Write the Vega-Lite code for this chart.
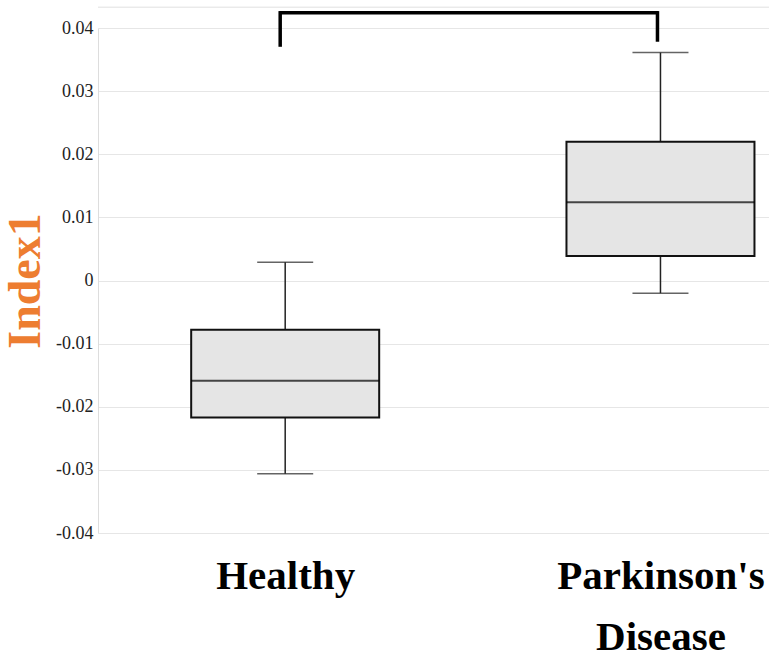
{
  "$schema": "https://vega.github.io/schema/vega-lite/v6.json",
  "width": 671,
  "height": 505,
  "autosize": {"type": "none"},
  "padding": {"left": 98, "top": 28, "right": 0, "bottom": 123},
  "background": "white",
  "config": {"view": {"stroke": null}, "font": "Liberation Serif"},
  "datasets": {
    "boxes": [
      {"group": "Healthy", "lower": -0.0306, "q1": -0.0217, "median": -0.0159, "q3": -0.0078, "upper": 0.0029},
      {"group": "Parkinson's Disease", "lower": -0.002, "q1": 0.0039, "median": 0.0124, "q3": 0.022, "upper": 0.0361}
    ],
    "bracket": [
      {"from": "Healthy", "to": "Parkinson's Disease", "top": 0.0424, "leftEnd": 0.0373, "rightEnd": 0.0381}
    ],
    "frame": [{"y": 0.0433}]
  },
  "layer": [
    {
      "data": {"name": "boxes"},
      "mark": {"type": "rule", "color": "#222", "strokeWidth": 1.5},
      "encoding": {
        "x": {
          "field": "group", "type": "nominal", "title": null,
          "scale": {"type": "point", "padding": 0.394, "align": 0.633, "domain": ["Healthy", "Parkinson's Disease"]},
          "axis": {
            "labelAngle": 0, "labelFont": "Liberation Serif", "labelFontSize": 41, "labelFontWeight": "bold",
            "labelColor": "#000", "ticks": false, "domain": false, "grid": false, "labelPadding": 23,
            "labelLineHeight": 61, "labelLimit": 0, "labelExpr": "split(datum.label, ' ')"
          }
        },
        "y": {
          "field": "lower", "type": "quantitative", "title": "Index1",
          "scale": {"domain": [-0.04, 0.04], "nice": false, "zero": false},
          "axis": {
            "values": [-0.04, -0.03, -0.02, -0.01, 0, 0.01, 0.02, 0.03, 0.04],
            "labelExpr": "replace(format(datum.value, '.2~f'), '\u2212', '-')",
            "labelFont": "Liberation Serif", "labelFontSize": 18, "labelColor": "#222", "labelPadding": 5,
            "ticks": false, "domainColor": "#dddddd", "gridColor": "#e6e6e6",
            "titleFont": "Liberation Serif", "titleFontSize": 46, "titleFontWeight": "bold", "titleColor": "#ED7D31",
            "titlePadding": 6
          }
        },
        "y2": {"field": "q1"}
      }
    },
    {
      "data": {"name": "boxes"},
      "mark": {"type": "rule", "color": "#222", "strokeWidth": 1.5},
      "encoding": {
        "x": {"field": "group", "type": "nominal", "title": null},
        "y": {"field": "q3", "type": "quantitative", "title": "Index1"},
        "y2": {"field": "upper"}
      }
    },
    {
      "data": {"name": "boxes"},
      "mark": {"type": "bar", "size": 188, "fill": "#e5e5e5", "stroke": "#111", "strokeWidth": 2},
      "encoding": {
        "x": {"field": "group", "type": "nominal", "title": null},
        "y": {"field": "q1", "type": "quantitative", "title": "Index1"},
        "y2": {"field": "q3"}
      }
    },
    {
      "data": {"name": "boxes"},
      "mark": {"type": "tick", "size": 188, "thickness": 2, "color": "#000"},
      "encoding": {
        "x": {"field": "group", "type": "nominal", "title": null},
        "y": {"field": "median", "type": "quantitative", "title": "Index1"}
      }
    },
    {
      "data": {"name": "boxes"},
      "mark": {"type": "tick", "size": 56, "thickness": 1.5, "color": "#222"},
      "encoding": {
        "x": {"field": "group", "type": "nominal", "title": null},
        "y": {"field": "lower", "type": "quantitative", "title": "Index1"}
      }
    },
    {
      "data": {"name": "boxes"},
      "mark": {"type": "tick", "size": 56, "thickness": 1.5, "color": "#222"},
      "encoding": {
        "x": {"field": "group", "type": "nominal", "title": null},
        "y": {"field": "upper", "type": "quantitative", "title": "Index1"}
      }
    },
    {
      "data": {"name": "frame"},
      "mark": {"type": "rule", "color": "#e0e0e0", "strokeWidth": 1},
      "encoding": {
        "y": {"field": "y", "type": "quantitative", "title": "Index1"}
      }
    },
    {
      "data": {"name": "bracket"},
      "mark": {"type": "rule", "color": "#000", "strokeWidth": 3.5, "strokeCap": "square", "xOffset": -4, "x2Offset": -4},
      "encoding": {
        "x": {"field": "from", "type": "nominal", "title": null},
        "x2": {"field": "to"},
        "y": {"field": "top", "type": "quantitative", "title": "Index1"}
      }
    },
    {
      "data": {"name": "bracket"},
      "mark": {"type": "rule", "color": "#000", "strokeWidth": 3.5, "strokeCap": "square", "xOffset": -5},
      "encoding": {
        "x": {"field": "from", "type": "nominal", "title": null},
        "y": {"field": "top", "type": "quantitative", "title": "Index1"},
        "y2": {"field": "leftEnd"}
      }
    },
    {
      "data": {"name": "bracket"},
      "mark": {"type": "rule", "color": "#000", "strokeWidth": 3.5, "strokeCap": "square", "xOffset": -3},
      "encoding": {
        "x": {"field": "to", "type": "nominal", "title": null},
        "y": {"field": "top", "type": "quantitative", "title": "Index1"},
        "y2": {"field": "rightEnd"}
      }
    }
  ]
}
